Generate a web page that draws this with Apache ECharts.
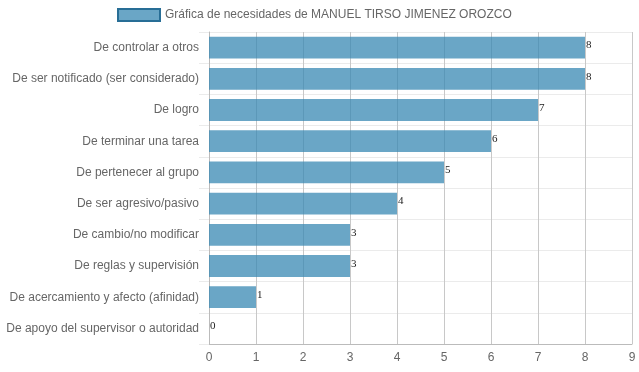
<!DOCTYPE html>
<html><head><meta charset="utf-8">
<script src="https://cdn.jsdelivr.net/npm/echarts@6/dist/echarts.min.js"></script>
<style>html,body{margin:0;padding:0;background:#fff}#c{width:639px;height:372px}</style>
</head><body><div id="c"></div>
<script>
var categories = ["De controlar a otros","De ser notificado (ser considerado)","De logro","De terminar una tarea","De pertenecer al grupo","De ser agresivo/pasivo","De cambio/no modificar","De reglas y supervisión","De acercamiento y afecto (afinidad)","De apoyo del supervisor o autoridad"];
var values = [8,8,7,6,5,4,3,3,1,0];
var seriesName = "Gráfica de necesidades de MANUEL TIRSO JIMENEZ OROZCO";
var xTicks = [0,1,2,3,4,5,6,7,8,9];

var chart = echarts.init(document.getElementById('c'));
chart.setOption({
  animation: false,
  legend: {
    top: 8, left: 117, padding: 0,
    itemWidth: 42, itemHeight: 12, itemGap: 5,
    icon: 'rect',
    textStyle: {fontFamily: 'Liberation Sans, Arial', fontSize: 12, color: '#666'},
    data: [{name: seriesName, itemStyle: {color: 'rgba(56,136,179,0.75)', borderColor: 'rgba(40,110,150,1)', borderWidth: 2}}]
  },
  grid: {left: 209, right: 7, top: 32, bottom: 28, containLabel: false},
  xAxis: {
    type: 'value', min: xTicks[0], max: xTicks[xTicks.length-1], interval: 1,
    axisLine: {show: true, lineStyle: {color: '#bbb'}},
    axisTick: {show: false},
    axisLabel: {color: '#666', fontFamily: 'Liberation Sans, Arial', fontSize: 12, margin: 8},
    splitLine: {show: true, lineStyle: {color: '#c8c8c8', width: 1}}
  },
  yAxis: {
    type: 'category', data: categories, inverse: true,
    axisLine: {show: true, lineStyle: {color: '#bbb'}},
    axisTick: {show: true, length: 10, lineStyle: {color: '#ebebeb'}},
    axisLabel: {color: '#666', fontFamily: 'Liberation Sans, Arial', fontSize: 12, margin: 10},
    splitLine: {show: true, lineStyle: {color: '#ebebeb', width: 1}}
  },
  series: [{
    name: seriesName, type: 'bar', data: values,
    barCategoryGap: '30%',
    itemStyle: {color: 'rgba(56,136,179,0.75)'},
    label: {show: true, position: 'right', distance: 1, offset: [0, -2], color: '#222',
      fontFamily: 'Liberation Serif, Times New Roman, serif', fontSize: 11}
  }]
});
</script></body></html>
